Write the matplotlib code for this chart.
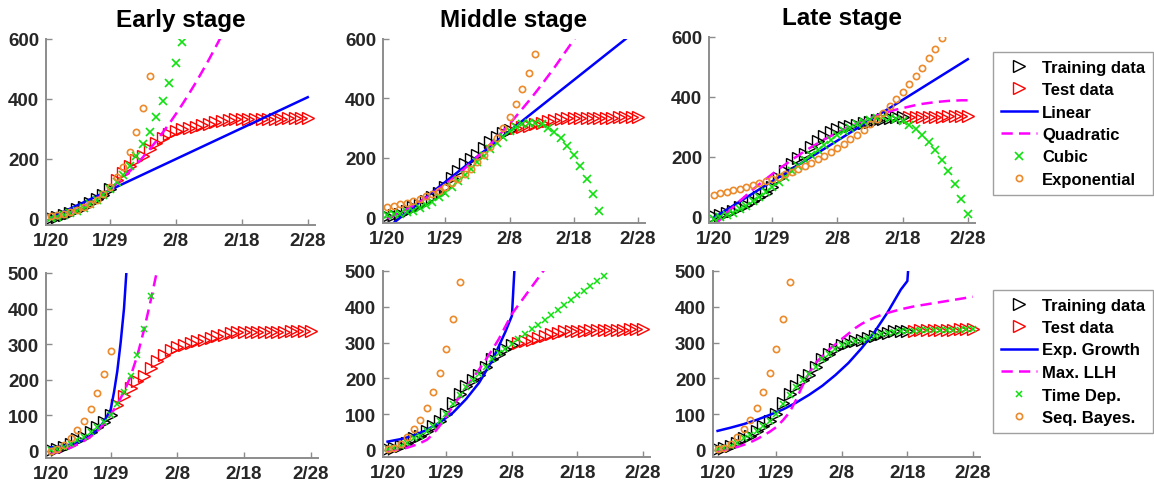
import numpy as np
import matplotlib.pyplot as plt

plt.rcParams['font.family'] = ['Liberation Sans', 'DejaVu Sans']
plt.rcParams['font.weight'] = 'bold'

# cumulative cases, one value per day from 1/20 to 2/28
days = np.arange(40)
cases = [2, 6, 12, 20, 33, 40, 53, 66, 80, 101, 130, 155, 178, 196, 210, 233, 254, 269, 283, 293,
         299, 303, 308, 313, 318, 324, 326, 331, 333, 333, 333, 334, 334, 335, 335, 335, 336, 337, 337, 337]
tick_days = [0, 9, 19, 29, 39]
tick_labels = ['1/20', '1/29', '2/8', '2/18', '2/28']
stage_titles = ['Early stage', 'Middle stage', 'Late stage']
train_end = [9, 19, 29]

# top row: regression fits
early_lin_t = [0, 39]
early_lin = [4, 406]
early_quad = [3, 8, 14, 22, 31, 42, 54, 68, 83, 100, 118, 138, 159, 182, 206, 232, 259, 288, 318, 350,
              383, 418, 454, 492, 531, 572, 614]
early_cub = [4, 7, 12, 19, 28, 38, 51, 65, 81, 100, 122, 148, 178, 211, 250, 291, 339, 394, 452, 520, 591]
early_exp = [11, 14, 18, 23, 30, 39, 50, 64, 83, 107, 139, 172, 222, 289, 369, 476]

mid_lin_t = [0, 39]
mid_lin = [-36, 633]
mid_quad = [-5, 5, 15, 26, 38, 51, 65, 79, 95, 111, 127, 145, 163, 183, 203, 223, 245, 267, 290, 314,
            339, 365, 391, 418, 446, 475, 504, 535, 566, 597, 630]
mid_cub = [8, 9, 12, 16, 22, 30, 40, 52, 66, 82, 100, 120, 141, 163, 185, 207, 229, 250, 270, 290,
           304, 313, 318, 318, 312, 301, 286, 266, 241, 210, 173, 129, 78, 20]
mid_exp = [34, 38, 43, 49, 55, 62, 70, 79, 89, 100, 114, 128, 145, 163, 184, 208, 235, 265, 300, 338,
           381, 431, 486, 548]

late_lin_t = [0, 39]
late_lin = [-3, 526]
late_quad = [-30, -9, 13, 33, 53, 72, 91, 109, 126, 143, 160, 175, 191, 205, 220, 233, 246, 259, 270, 282,
             292, 303, 312, 321, 330, 338, 345, 352, 358, 363, 368, 373, 377, 380, 383, 385, 387, 388, 389, 389]
late_cub = [-7, -1, 6, 15, 26, 38, 52, 67, 83, 100, 117, 135, 153, 171, 189, 207, 224, 241, 257, 272,
            286, 298, 309, 318, 325, 330, 332, 331, 327, 319, 308, 293, 274, 251, 223, 190, 152, 109, 61, 11]
late_exp = [74, 79, 83, 89, 94, 100, 106, 112, 119, 127, 134, 143, 151, 161, 170, 181, 192, 204, 216, 230,
            244, 259, 275, 291, 309, 328, 348, 370, 393, 417, 442, 469, 498, 529, 561, 596]

# bottom row: epidemic models
early_eg_t = [0, 1, 2, 3, 4, 5, 6, 7, 8, 9, 9.5, 10, 10.5, 11, 11.35]
early_eg = [10, 11, 14, 18, 24, 32, 43, 59, 82, 116, 165, 225, 305, 400, 500]
early_llh = [-8, -4, 2, 9, 18, 28, 40, 56, 76, 101, 131, 166, 210, 268, 340, 422, 510]
early_td = [2, 6, 12, 20, 32, 40, 52, 66, 80, 100, 133, 166, 211, 270, 343, 435]
early_sb = [1, 6, 17, 35, 58, 84, 118, 162, 215, 282]

mid_eg_t = [0, 2, 4, 6, 8, 10, 12, 14, 16, 18, 19, 19.4]
mid_eg = [23, 30, 40, 56, 77, 104, 142, 188, 250, 330, 375, 510]
mid_llh = [-4, -2, 2, 6, 12, 19, 28, 45, 68, 95, 122, 148, 174, 200, 225, 252, 280, 310, 345, 380,
           405, 430, 455, 480, 505]
mid_td = [2, 6, 12, 20, 33, 40, 53, 66, 82, 101, 128, 152, 176, 196, 212, 233, 254, 270, 283, 296,
          309, 323, 337, 350, 364, 377, 391, 405, 418, 432, 445, 459, 472, 486]
mid_sb = [1, 6, 17, 35, 58, 84, 118, 162, 215, 282, 367, 469]

late_eg_t = [0, 2, 4, 6, 8, 10, 12, 14, 16, 18, 20, 22, 24, 26, 28, 29, 29.15]
late_eg = [53, 62, 72, 84, 98, 113, 132, 154, 179, 209, 243, 284, 330, 385, 448, 472, 510]
late_llh = [-4, -1, 3, 8, 14, 21, 30, 40, 51, 64, 83, 105, 140, 180, 215, 243, 262, 280, 295, 310,
            325, 340, 352, 362, 370, 377, 383, 388, 393, 397, 401, 404, 407, 410, 413, 416, 419, 422, 425, 428]
late_td = [2, 6, 12, 20, 33, 41, 53, 66, 81, 101, 129, 154, 177, 196, 211, 233, 253, 269, 283, 293,
           299, 304, 308, 313, 318, 323, 326, 330, 332, 333, 333, 334, 334, 335, 335, 335, 336, 336, 337, 337]
late_sb = [1, 6, 17, 35, 58, 84, 118, 162, 215, 282, 367, 469]

top_fits = [(early_lin_t, early_lin, early_quad, early_cub, early_exp),
            (mid_lin_t, mid_lin, mid_quad, mid_cub, mid_exp),
            (late_lin_t, late_lin, late_quad, late_cub, late_exp)]
bottom_fits = [(early_eg_t, early_eg, early_llh, early_td, early_sb),
               (mid_eg_t, mid_eg, mid_llh, mid_td, mid_sb),
               (late_eg_t, late_eg, late_llh, late_td, late_sb)]

W, H = 1154, 489
fig = plt.figure(figsize=(W / 100, H / 100), dpi=100)

def make_ax(l, r, t, b):
    return fig.add_axes([l / W, 1 - b / H, (r - l) / W, (b - t) / H])

top_pos = [(46, 315, 40, 226), (383, 645, 40, 224), (709, 975, 38, 224)]
bot_pos = [(46, 318, 274, 459), (383, 650, 272, 458), (713, 980, 272, 458)]

blue = '#0000FF'
magenta = '#FF00FF'
green = '#10E010'
orange = '#EC8A2C'

def style(ax, ylim, yticks):
    ax.set_xlim(-0.7, 40.1)
    ax.set_ylim(*ylim)
    ax.set_xticks(tick_days)
    ax.set_xticklabels(tick_labels)
    ax.set_yticks(yticks)
    for s in ['top', 'right']:
        ax.spines[s].set_visible(False)
    for s in ['left', 'bottom']:
        ax.spines[s].set_color('#8c8c8c')
        ax.spines[s].set_linewidth(1.4)
    ax.tick_params(direction='in', length=4, width=1, color='#8c8c8c', labelsize=13.5,
                   labelcolor='#262626', pad=5)

def plot_data(ax, n):
    tr = ax.plot(days[:n + 1], cases[:n + 1], ls='none', marker='>', ms=8.5, mfc='none', mec='k', mew=1)[0]
    te = ax.plot(days[n + 1:], cases[n + 1:], ls='none', marker='>', ms=8.5, mfc='none', mec='r', mew=1)[0]
    return tr, te

top_handles = None
for i in range(3):
    ax = make_ax(*top_pos[i])
    style(ax, (-20, 600), [0, 200, 400, 600])
    ax.set_title(stage_titles[i], fontsize=17.5, fontweight='bold', pad=9)
    tr, te = plot_data(ax, train_end[i])
    lin_t, lin, quad, cub, ex = top_fits[i]
    h1 = ax.plot(lin_t, lin, color=blue, lw=1.8)[0]
    h2 = ax.plot(days[:len(quad)], quad, color=magenta, lw=1.8, dashes=(4.5, 2.5))[0]
    h3 = ax.plot(days[:len(cub)], cub, ls='none', marker='x', ms=5.5, color=green, mew=1.2)[0]
    h4 = ax.plot(days[:len(ex)], ex, ls='none', marker='o', ms=4.5, mfc='none', mec=orange, mew=1.2)[0]
    top_handles = [tr, te, h1, h2, h3, h4]

bot_handles = None
for i in range(3):
    ax = make_ax(*bot_pos[i])
    style(ax, (-20, 500), [0, 100, 200, 300, 400, 500])
    tr, te = plot_data(ax, train_end[i])
    eg_t, eg, llh, td, sb = bottom_fits[i]
    h1 = ax.plot(eg_t, eg, color=blue, lw=1.8)[0]
    h2 = ax.plot(days[:len(llh)], llh, color=magenta, lw=1.8, dashes=(4.5, 2.5))[0]
    h3 = ax.plot(days[:len(td)], td, ls='none', marker='x', ms=4.5, color=green, mew=1.1)[0]
    h4 = ax.plot(days[:len(sb)], sb, ls='none', marker='o', ms=4.5, mfc='none', mec=orange, mew=1.2)[0]
    bot_handles = [tr, te, h1, h2, h3, h4]

top_labels = ['Training data', 'Test data', 'Linear', 'Quadratic', 'Cubic', 'Exponential']
bot_labels = ['Training data', 'Test data', 'Exp. Growth', 'Max. LLH', 'Time Dep.', 'Seq. Bayes.']

for handles, labels, ytop in [(top_handles, top_labels, 53), (bot_handles, bot_labels, 291)]:
    leg = fig.legend(handles, labels, loc='upper left', bbox_to_anchor=(993 / W, 1 - ytop / H),
                     prop=dict(weight='bold', size=12), fancybox=False, framealpha=1,
                     edgecolor='#a0a0a0', borderaxespad=0, handlelength=2.2, handletextpad=0.3,
                     labelspacing=0.45, borderpad=0.45, numpoints=1)
    leg.get_frame().set_linewidth(1)

fig.savefig('out.png', dpi=100)
